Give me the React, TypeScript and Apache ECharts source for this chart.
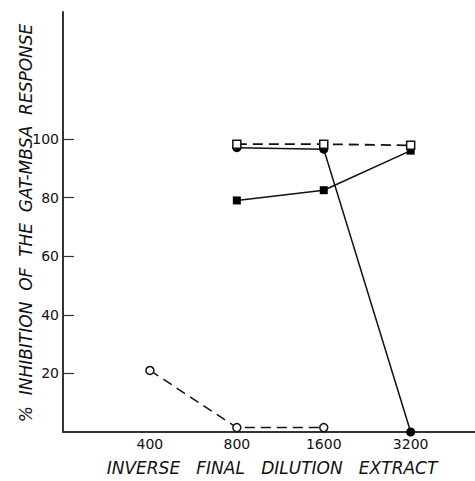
import React, { useEffect, useRef } from "react";
import * as echarts from "echarts";

const dilutions = [400, 800, 1600, 3200];
const openCircles = [21, 1.5, 1.5, null];
const filledCircles = [null, 97, 96.5, 0];
const filledSquares = [null, 79, 82.5, 96];
const openSquares = [null, 98.2, 98.2, 97.8];
const yTicks = [20, 40, 60, 80, 100];

const pos = (d: number) => Math.log2(d / 200);
const pts = (vals: (number | null)[]) =>
  dilutions
    .map((d, i) => (vals[i] == null ? null : [pos(d), vals[i] as number]))
    .filter((p) => p !== null);

export default function App() {
  const ref = useRef<HTMLDivElement>(null);
  useEffect(() => {
    const chart = echarts.init(ref.current!, null, { renderer: "svg" });
    const font = "DejaVu Sans";
    const lineBase = { color: "#111", width: 1.5 };
    chart.setOption({
      animation: false,
      backgroundColor: "#fff",
      grid: { left: 63, right: 0, top: 12, bottom: 49, containLabel: false },
      xAxis: {
        type: "value",
        min: 0,
        max: 4.74,
        interval: 1,
        splitLine: { show: false },
        axisLine: { lineStyle: { color: "#333", width: 2 } },
        axisTick: { show: false },
        axisLabel: {
          customValues: dilutions.map(pos),
          formatter: (v: number) => String(Math.round(200 * Math.pow(2, v))),
          color: "#111",
          fontFamily: font,
          fontSize: 14,
          margin: 5,
        },
      },
      yAxis: {
        type: "value",
        min: 0,
        max: 143.3,
        interval: 20,
        splitLine: { show: false },
        axisLine: { show: true, lineStyle: { color: "#333", width: 2 } },
        axisTick: {
          show: true,
          inside: true,
          length: 11,
          customValues: yTicks,
          lineStyle: { color: "#333", width: 1.2 },
        },
        axisLabel: {
          customValues: yTicks,
          color: "#111",
          fontFamily: font,
          fontSize: 14,
          margin: 4,
        },
      },
      graphic: [
        {
          type: "text",
          x: 26,
          y: 223,
          rotation: Math.PI / 2,
          style: {
            text: "%  INHIBITION  OF  THE  GAT-MBSA  RESPONSE",
            fontFamily: font,
            fontStyle: "italic",
            fontSize: 17,
            fill: "#111",
            align: "center",
            verticalAlign: "middle",
          },
        },
        {
          type: "text",
          x: 272,
          y: 468,
          style: {
            text: "INVERSE   FINAL   DILUTION   EXTRACT",
            fontFamily: font,
            fontStyle: "italic",
            fontSize: 17,
            fill: "#111",
            align: "center",
            verticalAlign: "middle",
          },
        },
      ],
      series: [
        {
          type: "line",
          data: pts(filledCircles),
          symbol: "circle",
          symbolSize: 9,
          itemStyle: { color: "#000" },
          lineStyle: lineBase,
          z: 2,
        },
        {
          type: "line",
          data: pts(filledSquares),
          symbol: "rect",
          symbolSize: 8,
          itemStyle: { color: "#000" },
          lineStyle: lineBase,
          z: 2,
        },
        {
          type: "line",
          data: pts(openCircles),
          symbol: "circle",
          symbolSize: 8,
          showAllSymbol: true,
          itemStyle: { color: "#fff", borderColor: "#111", borderWidth: 1.5 },
          lineStyle: { ...lineBase, type: [10, 6] },
          z: 3,
        },
        {
          type: "line",
          data: pts(openSquares),
          symbol: "rect",
          symbolSize: 8,
          itemStyle: { color: "#fff", borderColor: "#111", borderWidth: 1.5 },
          lineStyle: { ...lineBase, type: [10, 6], width: 1.8 },
          z: 4,
        },
      ],
    });
    return () => chart.dispose();
  }, []);
  return <div ref={ref} style={{ width: 475, height: 481, position: "absolute", left: 0, top: 0 }} />;
}
